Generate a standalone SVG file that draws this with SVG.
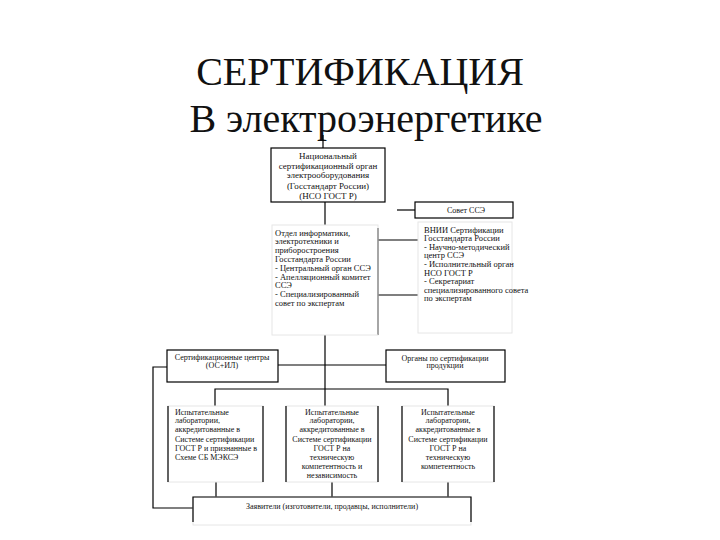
<svg xmlns="http://www.w3.org/2000/svg" width="720" height="540" viewBox="0 0 720 540" font-family="'Liberation Serif', 'Times New Roman', 'DejaVu Serif', serif">
<style>
text{font-family:"Liberation Serif","Times New Roman","DejaVu Serif",serif;fill:#111}
.t{font-size:40px;text-anchor:middle}
.s9{font-size:9px}
.s85{font-size:8.5px}
.s8{font-size:8px}
.c{text-anchor:middle}
.box{fill:none;stroke:#000;stroke-width:1.2}
.faint{fill:none;stroke:#e6e6e6;stroke-width:1}
.edge{stroke:#000;stroke-width:1.2;fill:none}
</style>
<rect width="720" height="540" fill="#fff"/>
<g id="title">
<text class="t" x="360" y="85">СЕРТИФИКАЦИЯ</text>
<text class="t" x="366" y="132">В электроэнергетике</text>
</g>
<g id="connectors" class="edge">
<line x1="323" y1="135" x2="323" y2="148"/>
<line x1="325" y1="202" x2="325" y2="225"/>
<line x1="325" y1="335" x2="325" y2="406"/>
<line x1="397" y1="210" x2="415" y2="210"/>
<line x1="378" y1="228" x2="378" y2="335"/>
<line x1="378" y1="240" x2="418" y2="240"/>
<line x1="378" y1="295" x2="418" y2="295"/>
<line x1="278" y1="365" x2="386" y2="365"/>
<polyline points="215,406 215,389 448,389 448,406"/>
<line x1="216" y1="482" x2="216" y2="497"/>
<line x1="332" y1="482" x2="332" y2="497"/>
<line x1="448" y1="482" x2="448" y2="497"/>
<polyline points="167,367 153,367 153,508 193,508"/>
</g>
<g id="nso">
<rect class="box" x="271" y="148" width="114" height="54"/>
<text class="s9 c" x="328" y="158.5">Национальный</text>
<text class="s9 c" x="328" y="168.5">сертификационный орган</text>
<text class="s9 c" x="328" y="178">электрооборудования</text>
<text class="s9 c" x="328" y="188.5">(Госстандарт России)</text>
<text class="s9 c" x="328" y="199">(НСО ГОСТ Р)</text>
</g>
<g id="sovet">
<rect class="box" x="415" y="202" width="98" height="16"/>
<text class="s8 c" x="466" y="213">Совет ССЭ</text>
</g>
<g id="otdel">
<rect class="faint" x="272" y="225" width="106" height="110"/>
<text class="s85" x="275" y="235.5">Отдел информатики,</text>
<text class="s85" x="275" y="244.3">электротехники и</text>
<text class="s85" x="275" y="253.1">приборостроения</text>
<text class="s85" x="275" y="261.9">Госстандарта России</text>
<text class="s85" x="275" y="270.7">- Центральный орган ССЭ</text>
<text class="s85" x="275" y="279.5">- Апелляционный комитет</text>
<text class="s85" x="275" y="288.3">ССЭ</text>
<text class="s85" x="275" y="297.1">- Специализированный</text>
<text class="s85" x="275" y="305.9">совет по экспертам</text>
</g>
<g id="vnii">
<rect class="faint" x="418" y="222" width="94" height="111"/>
<text class="s85" x="424" y="232.5">ВНИИ Сертификации</text>
<text class="s85" x="424" y="241.1">Госстандарта России</text>
<text class="s85" x="424" y="249.7">- Научно-методический</text>
<text class="s85" x="424" y="258.3">центр ССЭ</text>
<text class="s85" x="424" y="266.9">- Исполнительный орган</text>
<text class="s85" x="424" y="275.5">НСО ГОСТ Р</text>
<text class="s85" x="424" y="284.1">- Секретариат</text>
<text class="s85" x="424" y="292.7">специализированного совета</text>
<text class="s85" x="424" y="301.3">по экспертам</text>
</g>
<g id="centers">
<rect class="box" x="167" y="350" width="111" height="32"/>
<text class="s8 c" x="222" y="360">Сертификационные центры</text>
<text class="s8 c" x="222" y="367.5">(ОС+ИЛ)</text>
</g>
<g id="organs">
<rect class="box" x="386" y="350" width="119" height="32"/>
<text class="s8 c" x="445" y="360.5">Органы по сертификации</text>
<text class="s8 c" x="445" y="368">продукции</text>
</g>
<g id="lab1">
<rect class="faint" x="168" y="406" width="95" height="76"/>
<line class="edge" x1="168" y1="406" x2="168" y2="482"/>
<line class="edge" x1="263" y1="406" x2="263" y2="482"/>
<text class="s8" x="175" y="414.5">Испытательные</text>
<text class="s8" x="175" y="423">лаборатории,</text>
<text class="s8" x="175" y="432">аккредитованные в</text>
<text class="s8" x="175" y="441.5">Системе сертификации</text>
<text class="s8" x="175" y="450.5">ГОСТ Р и признанные в</text>
<text class="s8" x="175" y="459.5">Схеме СБ МЭКСЭ</text>
</g>
<g id="lab2">
<rect class="faint" x="286" y="406" width="92" height="76"/>
<line class="edge" x1="286" y1="406" x2="286" y2="482"/>
<line class="edge" x1="378" y1="406" x2="378" y2="482"/>
<text class="s8 c" x="332" y="414.5">Испытательные</text>
<text class="s8 c" x="332" y="423">лаборатории,</text>
<text class="s8 c" x="332" y="432">аккредитованные в</text>
<text class="s8 c" x="332" y="441.5">Системе сертификации</text>
<text class="s8 c" x="332" y="450.5">ГОСТ Р на</text>
<text class="s8 c" x="332" y="459.5">техническую</text>
<text class="s8 c" x="332" y="468.5">компетентность и</text>
<text class="s8 c" x="332" y="477.5">независимость</text>
</g>
<g id="lab3">
<rect class="faint" x="402" y="406" width="92" height="76"/>
<line class="edge" x1="402" y1="406" x2="402" y2="482"/>
<line class="edge" x1="494" y1="406" x2="494" y2="482"/>
<text class="s8 c" x="448" y="414.5">Испытательные</text>
<text class="s8 c" x="448" y="423">лаборатории,</text>
<text class="s8 c" x="448" y="432">аккредитованные в</text>
<text class="s8 c" x="448" y="441.5">Системе сертификации</text>
<text class="s8 c" x="448" y="450.5">ГОСТ Р на</text>
<text class="s8 c" x="448" y="459.5">техническую</text>
<text class="s8 c" x="448" y="468.5">компетентность</text>
</g>
<g id="applicants">
<rect class="faint" x="193" y="497" width="278" height="28"/>
<polyline class="edge" points="193,522 193,497 471,497 471,522"/>
<text class="s8 c" x="332" y="509">Заявители (изготовители, продавцы, исполнители)</text>
</g>
</svg>
